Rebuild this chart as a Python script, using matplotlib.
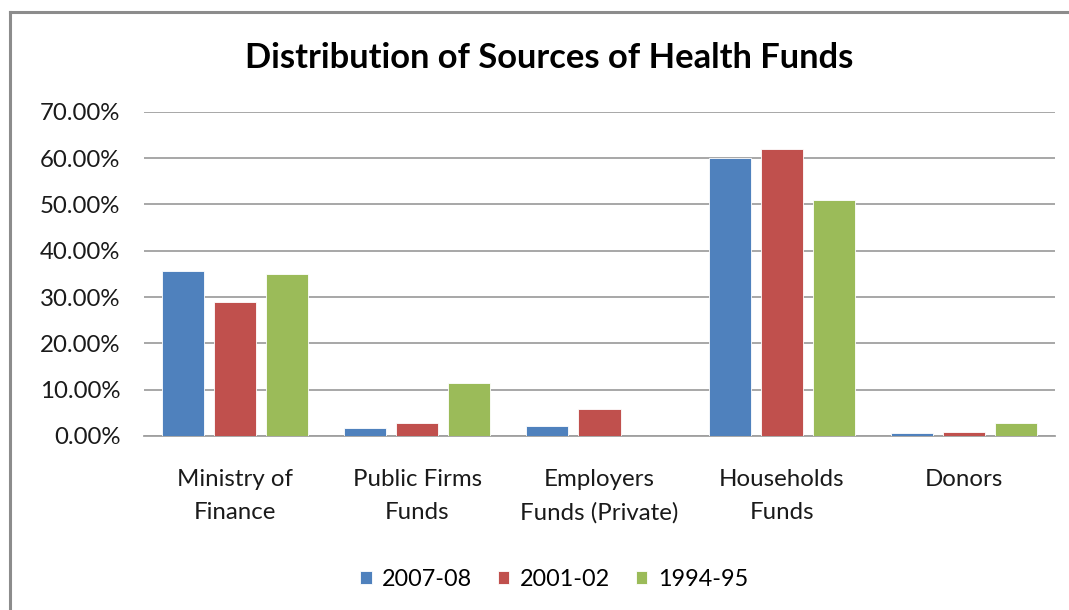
import matplotlib
matplotlib.use("Agg")
import matplotlib.pyplot as plt
import numpy as np
from matplotlib.lines import Line2D
from matplotlib.ticker import FuncFormatter, MultipleLocator

categories = ["Ministry of\nFinance", "Public Firms\nFunds", "Employers\nFunds (Private)",
              "Households\nFunds", "Donors"]
series_names = ["2007-08", "2001-02", "1994-95"]
v_2007 = [0.356, 0.0177, 0.022, 0.600, 0.006]
v_2001 = [0.290, 0.0285, 0.058, 0.620, 0.008]
v_1994 = [0.350, 0.115, 0.0, 0.510, 0.027]
colors = ["#4F81BD", "#C0504D", "#9BBB59"]

plt.rcParams['font.family'] = ['Lato', 'DejaVu Sans']

fig = plt.figure(figsize=(10.69, 6.10), dpi=100)
ax = fig.add_axes([144/1069, 1-436/610, (1055-144)/1069, (436-111.7)/610])

x = np.arange(len(categories))
offsets = [-0.286, 0.0, 0.286]
width = 0.231
for vals, off, col, name in zip([v_2007, v_2001, v_1994], offsets, colors, series_names):
    ax.bar(x + off, vals, width=width, color=col, edgecolor="white", linewidth=0.6,
           label=name, zorder=3)

ax.set_xlim(-0.5, len(categories) - 0.5)
ax.set_ylim(0, 0.70)
ax.yaxis.set_major_locator(MultipleLocator(0.10))
ax.yaxis.set_major_formatter(FuncFormatter(lambda v, p: f"{v*100:.2f}%"))
ax.grid(axis="y", color="#A0A0A0", linewidth=1.3, zorder=0)
ax.set_axisbelow(True)
for s in ["top", "right", "left"]:
    ax.spines[s].set_visible(False)
ax.spines["bottom"].set_color("#A0A0A0")
ax.spines["bottom"].set_linewidth(1.3)
ax.tick_params(axis="y", length=0, pad=17, labelsize=17.3, labelcolor="#1a1a1a")
ax.set_xticks(x)
ax.set_xticklabels(categories, fontsize=17.3, color="#1a1a1a", linespacing=1.68)
ax.tick_params(axis="x", length=0, pad=24)

fig.text(549.5/1069, 1-58/610, "Distribution of Sources of Health Funds", ha="center", va="center",
         fontsize=24.8, fontweight="bold", color="black")

leg = fig.legend(loc="center", bbox_to_anchor=(554/1069, 1-579/610), ncol=3, frameon=False,
                 fontsize=16.8, handlelength=0.5, handleheight=0.5, handletextpad=0.45,
                 columnspacing=1.1)

fig.add_artist(Line2D([10/1069, 10/1069], [0, 1-12/610], transform=fig.transFigure,
                      color="#8C8C8C", linewidth=2.2))
fig.add_artist(Line2D([10/1069, 1], [1-12/610, 1-12/610], transform=fig.transFigure,
                      color="#8C8C8C", linewidth=2.2))

fig.savefig("out.png", dpi=100, facecolor="white")
